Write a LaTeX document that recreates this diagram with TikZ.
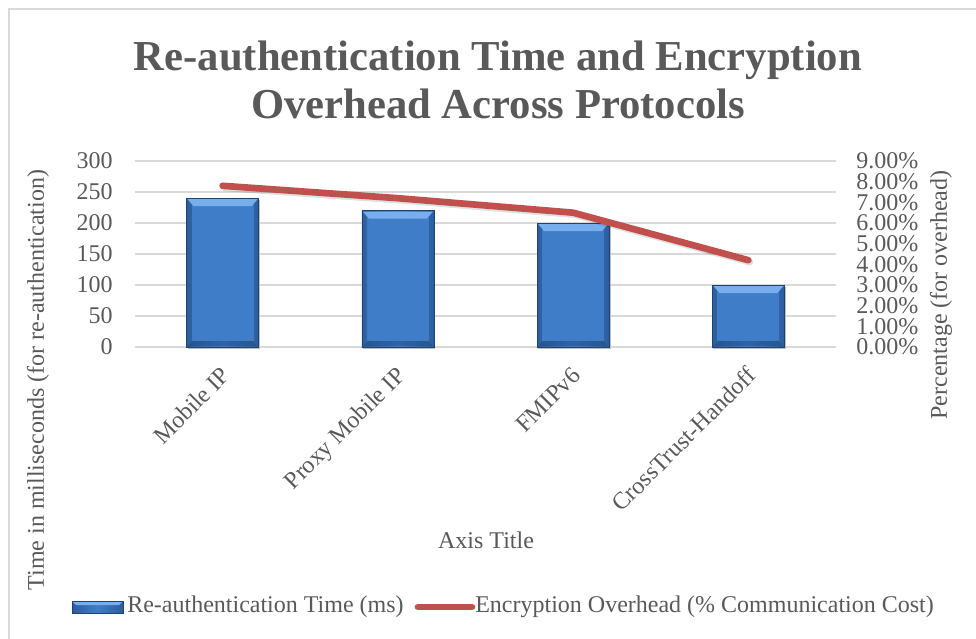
\documentclass[tikz,border=0pt]{standalone}
\usepackage{fontspec}
\setmainfont{Liberation Serif}
\usepackage{xcolor}
\usepackage{tikz}
\usetikzlibrary{positioning}
\definecolor{chartgray}{HTML}{595959}
\definecolor{gridgray}{HTML}{D9D9D9}
\definecolor{barblue}{HTML}{3F7DC9}
\definecolor{bardark}{HTML}{2C5E9E}
\definecolor{barlight}{HTML}{78AEEB}
\definecolor{linered}{HTML}{C0504D}

\tikzset{
  charttext/.style={font=\fontsize{18}{19}\selectfont, text=chartgray, inner sep=0pt},
  titletext/.style={font=\fontsize{32}{36}\selectfont\bfseries, text=chartgray, inner sep=0pt},
  gridline/.style={draw=gridgray, line width=1.1pt},
  overhead/.style={draw=linered, line width=5pt, line cap=round, line join=round}
}

\begin{document}
\begin{tikzpicture}[x=0.75pt, y=-0.75pt]
  \useasboundingbox (0,0) rectangle (976,639);
  % chart frame, only top and left edge fall inside
  \draw[gridgray, line width=1.2pt] (9,639) -- (9,9) -- (976,9);

  % title
  \node[titletext, anchor=base] (title1) at (498,70) {Re-authentication Time and Encryption};
  \node[titletext, anchor=base] (title2) at (498,118) {Overhead Across Protocols};

  % grid and left ticks
  \foreach \v in {0,50,...,300} {
    \draw[gridline] (135,347-\v*0.62) -- (836,347-\v*0.62);
    \node[charttext, anchor=east] (ly\v) at (113,347-\v*0.62) {\v};
  }
  % right ticks
  \foreach \i in {0,...,9}
    \node[charttext, anchor=west] (ry\i) at (856,347-\i*20.667) {\i.00\%};

  % bars
  \foreach \cx/\v/\lbl [count=\k] in {222.6/240/Mobile IP, 397.9/220/Proxy Mobile IP,
                                     573.1/200/FMIPv6, 748.4/100/CrossTrust-Handoff} {
    \fill[black!25] (\cx-35,347-\v*0.62+1.5) rectangle (\cx+37.5,348.5);
    \shade[left color=bardark, right color=bardark, middle color=barblue]
      (\cx-36,347-\v*0.62) rectangle (\cx+36,347);
    \fill[barblue] (\cx-31,347-\v*0.62+6) rectangle (\cx+31,341);
    \fill[barlight] (\cx-35,347-\v*0.62+1) -- (\cx+35,347-\v*0.62+1)
      -- (\cx+29,347-\v*0.62+8) -- (\cx-29,347-\v*0.62+8) -- cycle;
    \fill[bardark!80!black, opacity=.5] (\cx-35,346) -- (\cx+35,346) -- (\cx+30,341) -- (\cx-30,341) -- cycle;
    \draw[bardark!70!black, line width=.6pt] (\cx-36,347-\v*0.62) rectangle (\cx+36,347);
    \node[charttext, rotate=45, anchor=base east] (cat\k) at (\cx+9,377) {\lbl};
  }

  % overhead line
  \coordinate (p1) at (222.6,347-7.8*20.667);
  \coordinate (p2) at (397.9,347-7.2*20.667);
  \coordinate (p3) at (573.1,347-6.5*20.667);
  \coordinate (p4) at (748.4,347-4.2*20.667);
  \draw[overhead, draw=black, opacity=.12, transform canvas={shift={(1pt,-1.5pt)}}] (p1) -- (p2) -- (p3) -- (p4);
  \draw[overhead] (p1) -- (p2) -- (p3) -- (p4);

  % axis titles
  \node[charttext, rotate=90] (ytitle) at (38,380) {Time in milliseconds (for re-authentication)};
  \node[charttext, rotate=90] (y2title) at (941,295) {Percentage (for overhead)};
  \node[charttext] (xtitle) at (486,540) {Axis Title};

  % legend
  \shade[left color=bardark, right color=bardark, middle color=barblue] (72,601) rectangle (123,613);
  \fill[barlight] (73,602) -- (122,602) -- (119,605) -- (76,605) -- cycle;
  \draw[bardark!70!black, line width=.5pt] (72,601) rectangle (123,613);
  \coordinate (barkey) at (123,607);
  \node[charttext, anchor=west] (barlabel) at (127,607) {Re-authentication Time (ms)};
  \coordinate (linekeyA) at (418,607);
  \coordinate (linekeyB) at (472,607);
  \draw[overhead] (linekeyA) -- (linekeyB);
  \node[charttext, anchor=west] (linelabel) at (475,607) {Encryption Overhead (\% Communication Cost)};
\end{tikzpicture}
\end{document}
